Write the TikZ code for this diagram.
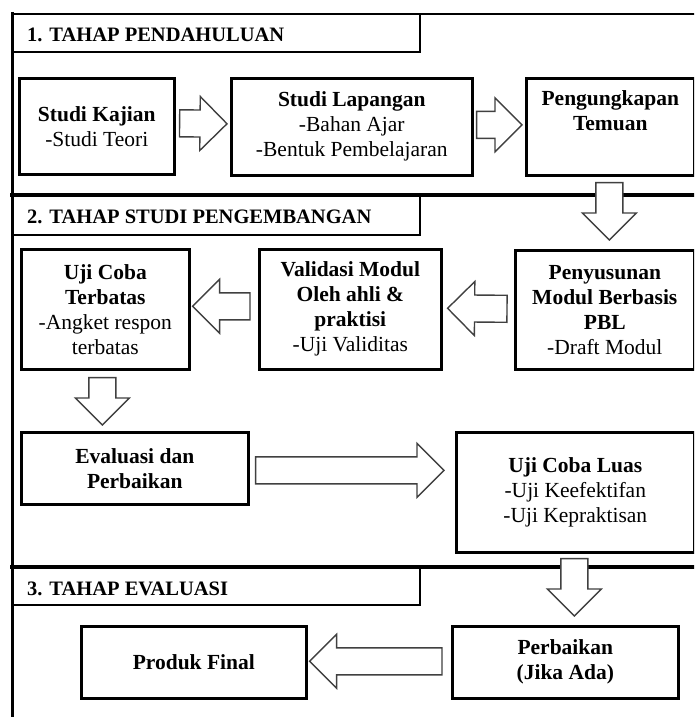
\documentclass[tikz,border=0pt]{standalone}
\usepackage{fontspec}
\setmainfont{Liberation Serif}
\usetikzlibrary{calc}
\newcommand{\blockarrow}[2]{%
  \coordinate (hb) at ($(#2)!27pt!(#1)$);
  \draw[blockarrow] ($(#1)!13.5pt!90:(#2)$) -- ($(hb)!13.5pt!90:(#2)$) -- ($(hb)!27pt!90:(#2)$) -- (#2)
    -- ($(hb)!27pt!-90:(#2)$) -- ($(hb)!13.5pt!-90:(#2)$) -- ($(#1)!13.5pt!-90:(#2)$) -- cycle;}
\begin{document}
\begin{tikzpicture}[x=1pt, y=-1pt,
  box/.style={draw, line width=2.6pt, align=center, inner sep=0pt, anchor=north west,
    font=\fontsize{21.5}{25}\selectfont},
  blockarrow/.style={draw=black!75, line width=1.4pt, fill=white, line join=miter},
  titletext/.style={anchor=base west, inner sep=0pt, font=\bfseries\fontsize{20.5}{24}\selectfont},
  frameline/.style={line width=2.4pt},
  divider/.style={line width=4.2pt}]
\useasboundingbox (0,0) rectangle (694,717);
\fill[white] (0,0) rectangle (694,717);
\clip (0,0) rectangle (694,717);

% frame
\draw[frameline] (12,14) -- (700,14);
\draw[line width=3pt] (12,12) -- (12,720);
\draw[divider] (10,195) -- (700,195);
\draw[divider] (10,567) -- (700,567);
\draw[frameline] (12,14) rectangle (420,52);
\draw[frameline] (12,195) rectangle (420,235);
\draw[frameline] (12,567) rectangle (420,605);
\node[titletext] (t1) at (27,42) {1. TAHAP PENDAHULUAN};
\node[titletext] (t2) at (27,223) {2. TAHAP STUDI PENGEMBANGAN};
\node[titletext] (t3) at (27,595) {3. TAHAP EVALUASI};

% boxes
\node[box, minimum width=155, minimum height=96] (b1) at (18,77)
  {\textbf{Studi Kajian}\\-Studi Teori};
\node[box, minimum width=241, minimum height=97] (b2) at (230,77)
  {\textbf{Studi Lapangan}\\-Bahan Ajar\\-Bentuk Pembelajaran};
\node[box, minimum width=168, minimum height=97] (b3) at (525,77)
  {\textbf{Pengungkapan}\\\textbf{Temuan}\\\strut};
\node[box, minimum width=179, minimum height=119] (b4) at (514,249)
  {\textbf{Penyusunan}\\\textbf{Modul Berbasis}\\\textbf{PBL}\\-Draft Modul};
\node[box, minimum width=182, minimum height=120] (b5) at (258,248)
  {\textbf{Validasi Modul}\\\textbf{Oleh ahli \&}\\\textbf{praktisi}\\-Uji Validitas};
\node[box, minimum width=168, minimum height=120] (b6) at (20,248)
  {\textbf{Uji Coba}\\\textbf{Terbatas}\\-Angket respon\\terbatas};
\node[box, minimum width=227, minimum height=72] (b7) at (20,431)
  {\textbf{Evaluasi dan}\\\textbf{Perbaikan}};
\node[box, minimum width=238, minimum height=120] (b8) at (455,431)
  {\textbf{Uji Coba Luas}\\-Uji Keefektifan\\-Uji Kepraktisan};
\node[box, minimum width=226, minimum height=72] (b9) at (451,625)
  {\textbf{Perbaikan}\\\textbf{(Jika Ada)}};
\node[box, minimum width=225, minimum height=72] (b10) at (80,625)
  {\textbf{Produk Final}};

% arrow end points
\coordinate (a1s) at ($(b1.east)+(4,-3)$);
\coordinate (a1t) at ($(b2.west)+(-3,-3)$);
\coordinate (a2s) at ($(b2.east)+(3,-2)$);
\coordinate (a2t) at ($(b3.west)+(-3,-2)$);
\coordinate (d1s) at ($(b3.south)+(-1,6)$);
\coordinate (d1t) at ($(b3.south |- b4.north)+(-1,-9)$);
\coordinate (a4s) at ($(b4.west)+(-7,-1)$);
\coordinate (a4t) at ($(b5.east)+(5,-1)$);
\coordinate (a3s) at ($(b5.west)+(-8,-3)$);
\coordinate (a3t) at ($(b6.east)+(2,-3)$);
\coordinate (d2s) at ($(b6.south)+(-3,7)$);
\coordinate (d2t) at ($(b6.south |- b7.north)+(-3,-6)$);
\coordinate (a5s) at ($(b7.east)+(6,2)$);
\coordinate (a5t) at ($(b7.east -| b8.west)+(-11,2)$);
\coordinate (d3s) at ($(b8.south)+(-1,5)$);
\coordinate (d3t) at ($(b8.south |- b9.north)+(-1,-9)$);
\coordinate (a6s) at ($(b9.west)+(-9,-1)$);
\coordinate (a6t) at ($(b9.west -| b10.east)+(2,-1)$);

\blockarrow{a1s}{a1t}
\blockarrow{a2s}{a2t}
\blockarrow{d1s}{d1t}
\blockarrow{a4s}{a4t}
\blockarrow{a3s}{a3t}
\blockarrow{d2s}{d2t}
\blockarrow{a5s}{a5t}
\blockarrow{d3s}{d3t}
\blockarrow{a6s}{a6t}
\end{tikzpicture}
\end{document}
